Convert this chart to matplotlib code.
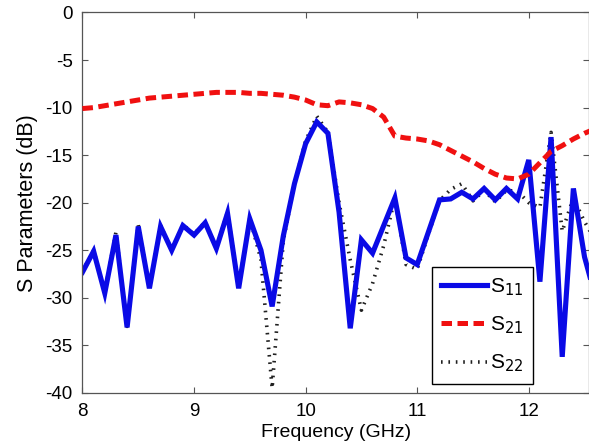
import numpy as np
import matplotlib
matplotlib.use('Agg')
import matplotlib.pyplot as plt

plt.rcParams['font.family'] = ['Liberation Sans', 'DejaVu Sans']
plt.rcParams['axes.unicode_minus'] = False

# frequency grid (GHz), 0.1 GHz steps
freq = [8.0, 8.1, 8.2, 8.3, 8.4, 8.5, 8.6, 8.7, 8.8, 8.9,
        9.0, 9.1, 9.2, 9.3, 9.4, 9.5, 9.6, 9.7, 9.8, 9.9,
        10.0, 10.1, 10.2, 10.3, 10.4, 10.5, 10.6, 10.7, 10.8, 10.9,
        11.0, 11.1, 11.2, 11.3, 11.4, 11.5, 11.6, 11.7, 11.8, 11.9,
        12.0, 12.1, 12.2, 12.3, 12.4, 12.5, 12.6]

s11 = [-27.3, -25.1, -29.5, -23.4, -33.1, -22.5, -29.0, -22.5, -25.0, -22.4,
       -23.4, -22.1, -24.8, -21.1, -29.0, -21.7, -25.0, -30.9, -23.5, -18.0,
       -13.8, -11.5, -12.7, -21.0, -33.2, -23.9, -25.3, -22.4, -19.5, -25.8,
       -26.5, -23.1, -19.7, -19.6, -18.9, -19.6, -18.5, -19.7, -18.5, -19.6,
       -15.5, -28.3, -13.1, -36.2, -18.5, -25.7, -30.0]

s21 = [-10.1, -10.0, -9.8, -9.6, -9.4, -9.2, -9.0, -8.9, -8.8, -8.7,
       -8.6, -8.5, -8.4, -8.4, -8.4, -8.5, -8.5, -8.6, -8.7, -8.9,
       -9.2, -9.7, -9.8, -9.4, -9.5, -9.7, -10.1, -11.0, -13.0, -13.2,
       -13.3, -13.5, -13.9, -14.5, -15.1, -15.7, -16.4, -17.0, -17.4, -17.5,
       -17.0, -15.8, -14.6, -14.0, -13.3, -12.7, -12.2]

s22 = [-27.2, -25.0, -29.4, -23.1, -33.0, -22.3, -28.9, -22.4, -25.0, -22.3,
       -23.3, -22.0, -24.7, -21.0, -28.9, -21.6, -26.0, -39.5, -24.0, -18.0,
       -13.5, -10.9, -12.6, -20.0, -26.0, -31.3, -28.5, -24.5, -19.5, -26.5,
       -27.0, -23.3, -19.8, -18.6, -18.0, -19.8, -18.7, -19.9, -18.7, -18.8,
       -20.0, -20.5, -12.6, -23.0, -19.5, -22.0, -24.0]

yticks = [0, -5, -10, -15, -20, -25, -30, -35, -40]
xticks = [8, 9, 10, 11, 12]

fig = plt.figure(figsize=(5.89, 4.44), dpi=100)
ax = fig.add_axes([0.140, 0.1149, 0.860, 0.857])

ax.plot(freq, s22, color='#202020', lw=2.6, linestyle=(0, (0.45, 1.6)),
        dash_capstyle='butt', label='S$_{22}$', zorder=1)
ax.plot(freq, s11, color='#0a0ae6', lw=3.7, solid_joinstyle='miter',
        label='S$_{11}$', zorder=2)
ax.plot(freq, s21, color='#f01010', lw=3.6, linestyle=(0, (2.1, 1.1)),
        dash_capstyle='butt', label='S$_{21}$', zorder=3)

ax.set_xlim(8, 12.54)
ax.set_ylim(-40, 0)
ax.set_xticks(xticks)
ax.set_yticks(yticks)
ax.tick_params(direction='in', top=True, right=True, length=4, width=0.8,
               labelsize=13.5, pad=7, color='#555555')
for sp in ax.spines.values():
    sp.set_color('#555555')
    sp.set_linewidth(0.9)

ax.set_xlabel('Frequency (GHz)', fontsize=14, labelpad=3)
ax.set_ylabel('S Parameters (dB)', fontsize=15.5, labelpad=5)

handles, labels = ax.get_legend_handles_labels()
order = [1, 2, 0]
leg = ax.legend([handles[i] for i in order], [labels[i] for i in order],
                loc='lower left', bbox_to_anchor=(0.690, 0.024), fontsize=15,
                handlelength=2.2, handletextpad=0.15, labelspacing=0.8,
                borderpad=0.45, borderaxespad=0, fancybox=False, framealpha=1,
                edgecolor='black')
leg.get_frame().set_linewidth(1.0)

fig.savefig('out.png', dpi=100)
